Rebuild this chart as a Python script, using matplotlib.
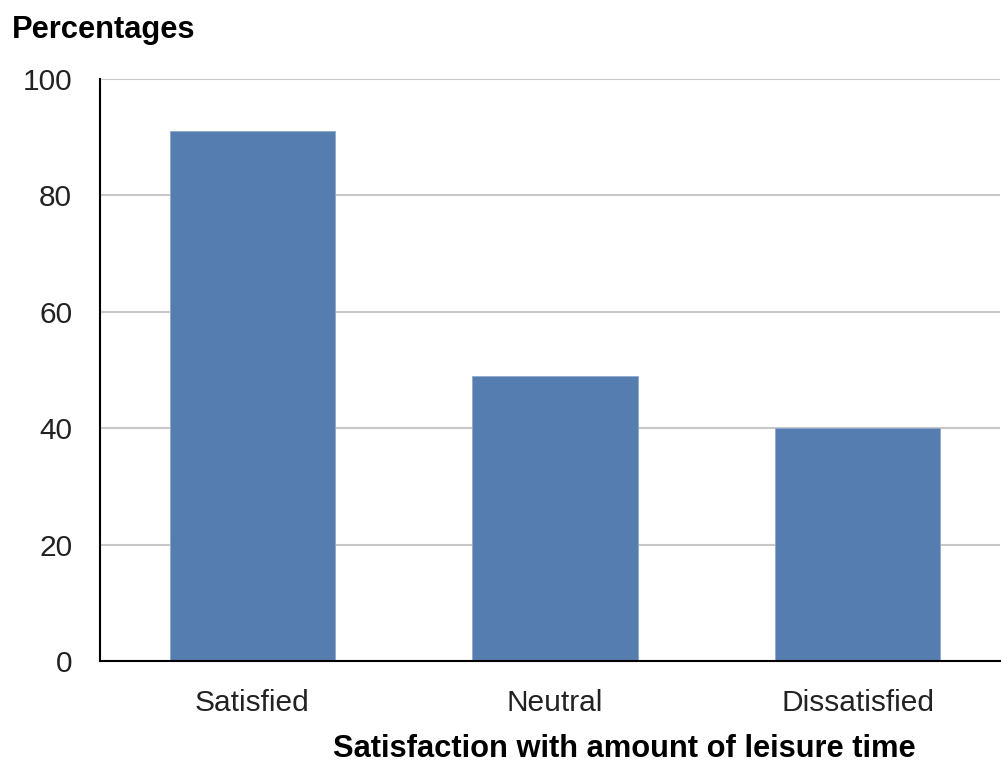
import matplotlib
matplotlib.use('Agg')
import matplotlib.pyplot as plt

# Satisfaction with amount of leisure time, percentages
categories = ['Satisfied', 'Neutral', 'Dissatisfied']
values = [91, 49, 40]
yticks = [0, 20, 40, 60, 80, 100]

plt.rcParams['font.family'] = ['Liberation Sans', 'DejaVu Sans']

fig = plt.figure(figsize=(10.03, 7.64), dpi=100)
ax = fig.add_axes([100 / 1003, 103 / 764, 900 / 1003, 582 / 764])

x = range(len(categories))
ax.bar(x, values, width=0.545, color='#557db0', edgecolor='#8fa8cc', linewidth=0.6, zorder=3)

ax.set_ylim(0, 100)
ax.set_xlim(-0.502, 2.469)
ax.set_yticks(yticks)
ax.set_xticks(list(x))
ax.set_xticklabels(categories)
ax.grid(axis='y', color='#c8c8c8', linewidth=1.5, zorder=0)
ax.tick_params(axis='both', length=0, labelsize=21.5, colors='#222222')
ax.tick_params(axis='y', pad=20)
ax.tick_params(axis='x', pad=20)

for s in ['top', 'right']:
    ax.spines[s].set_visible(False)
for s in ['left', 'bottom']:
    ax.spines[s].set_color('black')
    ax.spines[s].set_linewidth(1.5)
    ax.spines[s].set_zorder(4)

fig.text(12 / 1003, 1 - 30 / 764, 'Percentages', fontsize=22.2, fontweight='bold', va='center', ha='left')
fig.text(624 / 1003, 1 - 749 / 764, 'Satisfaction with amount of leisure time',
         fontsize=22.2, fontweight='bold', va='center', ha='center')

fig.savefig('out.png', dpi=100)
